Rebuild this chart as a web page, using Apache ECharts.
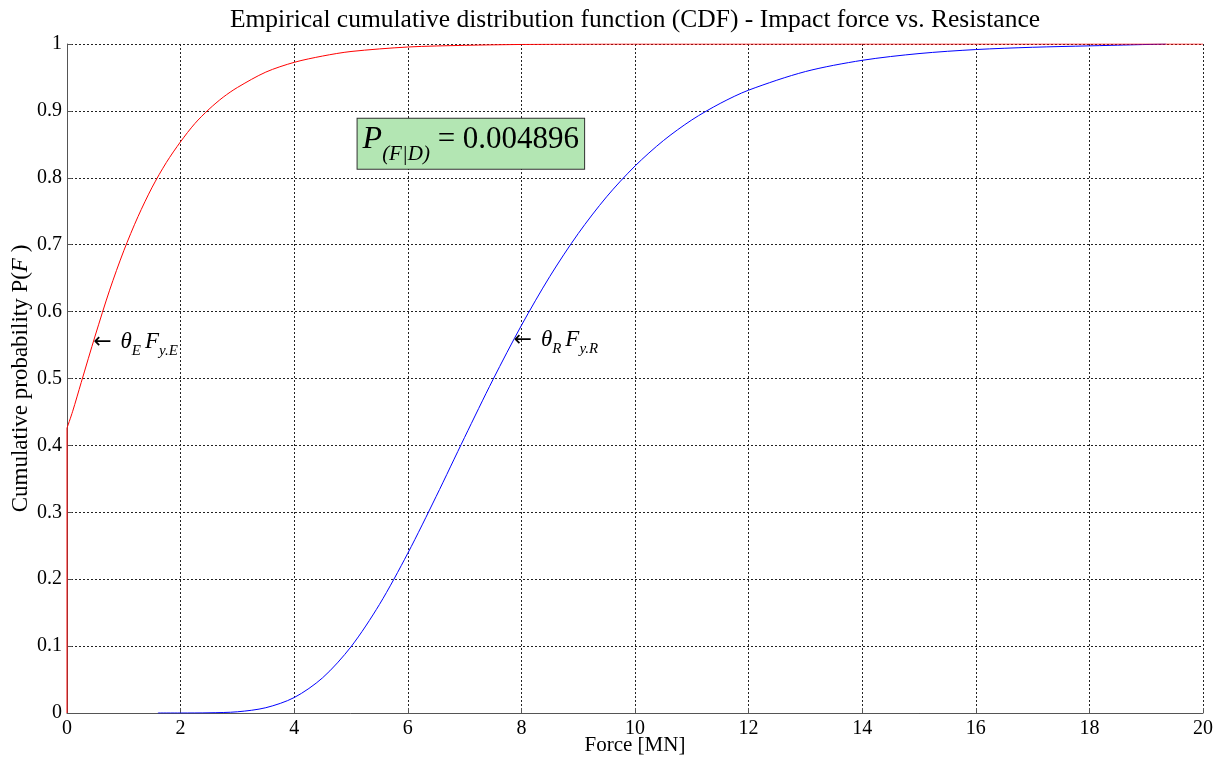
<!DOCTYPE html>
<html>
<head>
<meta charset="utf-8">
<script src="https://cdn.jsdelivr.net/npm/echarts@6/dist/echarts.min.js"></script>
<style>
html,body{margin:0;padding:0;background:#fff;}
#chart{width:1220px;height:760px;}
</style>
</head>
<body>
<div id="chart"></div>
<script>
// ---- data ----
var titleText = 'Empirical cumulative distribution function (CDF) - Impact force vs. Resistance';
var xAxisName = 'Force [MN]';
var xTickLabels = ['0','2','4','6','8','10','12','14','16','18','20'];
var yTickLabels = ['0','0.1','0.2','0.3','0.4','0.5','0.6','0.7','0.8','0.9','1'];

// Impact force (E) empirical CDF - red (first point: vertical jump at x = 0)
var redX = [0, 0, 0.1, 0.25, 0.5, 0.75, 1.0, 1.25, 1.5, 1.75, 2.0, 2.25, 2.5, 2.75, 3.0, 3.5, 4.0, 4.5, 5.0, 6.0, 7.0, 8.0, 9.0, 10, 20];
var redY = [0, 0.426, 0.451, 0.494, 0.565, 0.632, 0.691, 0.742, 0.786, 0.823, 0.854, 0.881, 0.9025, 0.9205, 0.935, 0.958, 0.9726, 0.982, 0.9888, 0.9955, 0.998, 0.9993, 0.9998, 1, 1];

// Resistance (R) empirical CDF - blue
var blueX = [1.6, 2.0, 2.5, 3.0, 3.5, 4.0, 4.5, 5.0, 5.5, 6.0, 6.5, 7.0, 7.5, 8.0, 8.5, 9.0, 9.5, 10, 10.5, 11, 11.5, 12, 13, 14, 15, 16, 17, 18, 19.35];
var blueY = [0, 0, 0.0003, 0.0018, 0.0079, 0.0231, 0.0526, 0.099, 0.1621, 0.2388, 0.3238, 0.412, 0.4984, 0.5793, 0.6525, 0.7166, 0.7716, 0.8176, 0.8556, 0.8865, 0.9112, 0.931, 0.9588, 0.9756, 0.9857, 0.9917, 0.9951, 0.9972, 1.0];

// annotations (anchor points in data units)
var annoE = [0.46, 0.554];
var annoR = [7.86, 0.557];
var pBox = [7.11, 0.851];
var pValue = '0.004896';

function zip(xs, ys){ var o=[]; for (var i=0;i<xs.length;i++) o.push([xs[i], ys[i]]); return o; }

var serif = 'Liberation Serif, Times New Roman, serif';
var chart = echarts.init(document.getElementById('chart'), null, {renderer:'canvas'});

var thetaRich = {
  a: {fontFamily: 'DejaVu Sans', fontSize: 22, color: '#000', lineHeight: 24, padding: [0,9,0,0]},
  sp:{fontFamily: serif, fontSize: 16, color: '#000', lineHeight: 24},
  t: {fontFamily: serif, fontStyle: 'italic', fontSize: 23, color: '#000', lineHeight: 24},
  s: {fontFamily: serif, fontStyle: 'italic', fontSize: 15, color: '#000', lineHeight: 15, padding: [18,0,0,0]}
};

var redAll = zip(redX, redY);

var option = {
  animation: false,
  backgroundColor: '#fff',
  title: {
    text: titleText,
    left: 630,
    textAlign: 'center',
    top: 2,
    textStyle: {fontFamily: serif, fontWeight: 'normal', fontSize: 25.5, color: '#000'}
  },
  grid: {left: 67, right: 17, top: 44, bottom: 47, containLabel: false, outerBoundsMode: 'none'},
  xAxis: {
    type: 'value', min: 0, max: 20, interval: 2,
    name: xAxisName, nameLocation: 'middle', nameGap: 22, nameMoveOverlap: false,
    nameTextStyle: {fontFamily: serif, fontSize: 21, color: '#000'},
    axisLine: {show: true, onZero: false, lineStyle: {color: '#555', width: 1}},
    axisTick: {show: true, inside: true, length: 5, lineStyle: {color: '#555'}},
    axisLabel: {margin: 6, fontFamily: serif, fontSize: 20, color: '#000',
      formatter: function(v){ return xTickLabels[Math.round(v/2)]; }},
    splitLine: {show: true, lineStyle: {color: '#222', width: 1, type: [2,2]}}
  },
  yAxis: {
    type: 'value', min: 0, max: 1, interval: 0.1,
    name: '{n|Cumulative probability P(}{i|F}{n| )}',
    nameLocation: 'middle', nameRotate: 90, nameGap: 35, nameMoveOverlap: false,
    nameTextStyle: {rich: {
      n: {fontFamily: serif, fontSize: 23, color: '#000'},
      i: {fontFamily: serif, fontStyle: 'italic', fontSize: 23, color: '#000'}
    }},
    axisLine: {show: true, onZero: false, lineStyle: {color: '#555', width: 1}},
    axisTick: {show: true, inside: true, length: 5, lineStyle: {color: '#555'}},
    axisLabel: {margin: 5, fontFamily: serif, fontSize: 20, color: '#000',
      formatter: function(v){ return yTickLabels[Math.round(v*10)]; }},
    splitLine: {show: true, lineStyle: {color: '#222', width: 1, type: [2,2]}}
  },
  series: [
    {
      // vertical jump of the red empirical CDF at x = 0
      type: 'line', name: 'Impact force (start)',
      data: redAll.slice(0, 2),
      showSymbol: false, symbol: 'none',
      lineStyle: {color: '#ff0000', width: 1},
      z: 3
    },
    {
      type: 'line', name: 'Impact force',
      data: redAll.slice(1),
      smooth: 0.3,
      showSymbol: false, symbol: 'none',
      lineStyle: {color: '#ff0000', width: 1},
      itemStyle: {color: '#ff0000'},
      z: 3,
      markPoint: {
        symbol: 'circle', symbolSize: 0, silent: true,
        data: [{
          coord: annoE,
          label: {show: true, position: 'right', distance: 0,
            formatter: '{a|←}{t|θ}{s|E}{sp| }{t|F}{s|y.E}',
            rich: thetaRich}
        }]
      }
    },
    {
      type: 'line', name: 'Resistance',
      data: zip(blueX, blueY),
      smooth: 0.3,
      showSymbol: false, symbol: 'none',
      lineStyle: {color: '#0000ff', width: 1},
      itemStyle: {color: '#0000ff'},
      z: 2,
      markPoint: {
        symbol: 'circle', symbolSize: 0, silent: true,
        data: [{
          coord: annoR,
          label: {show: true, position: 'right', distance: 0,
            formatter: '{a|←}{t|θ}{s|R}{sp| }{t|F}{s|y.R}',
            rich: thetaRich}
        }, {
          coord: pBox,
          label: {show: true, position: 'inside',
            backgroundColor: '#b3e6b3', borderColor: '#333', borderWidth: 1,
            padding: [8, 5, 8, 5],
            formatter: '{p|P}{q|(F|D)}{m| = ' + pValue + '}',
            rich: {
              p: {fontFamily: serif, fontStyle: 'italic', fontSize: 32, color: '#000', lineHeight: 34, padding: [0,0,8,0]},
              q: {fontFamily: serif, fontStyle: 'italic', fontSize: 21, color: '#000', lineHeight: 21, padding: [22,0,0,0]},
              m: {fontFamily: serif, fontSize: 31, color: '#000', lineHeight: 34, padding: [0,0,8,0]}
            }}
        }]
      }
    }
  ]
};
chart.setOption(option);
</script>
</body>
</html>
